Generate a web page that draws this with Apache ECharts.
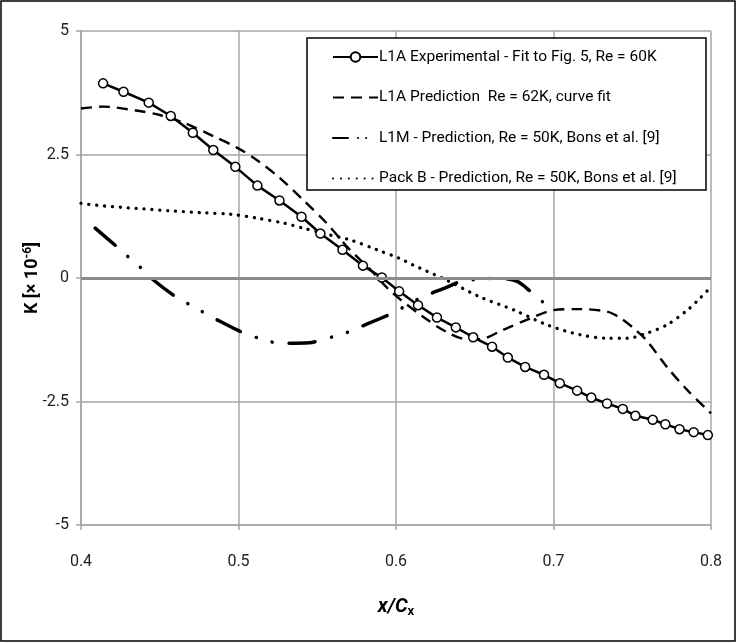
<!DOCTYPE html>
<html>
<head>
<meta charset="utf-8">
<script src="https://cdn.jsdelivr.net/npm/echarts@6/dist/echarts.min.js"></script>
<style>
  html, body { margin: 0; padding: 0; background: #fff; }
  #chart { width: 736px; height: 642px; }
</style>
</head>
<body>
<div id="chart"></div>
<script>
// L1A experimental (fit to Fig. 5)
var xExp = [0.414, 0.427, 0.443, 0.457, 0.471, 0.484, 0.498, 0.512, 0.526, 0.540, 0.552, 0.566, 0.579, 0.591, 0.602, 0.614, 0.626, 0.638, 0.649, 0.661, 0.671, 0.682, 0.694, 0.704, 0.715, 0.724, 0.734, 0.744, 0.752, 0.763, 0.771, 0.780, 0.789, 0.798]
var yExp = [3.94, 3.77, 3.55, 3.28, 2.94, 2.59, 2.25, 1.87, 1.57, 1.24, 0.90, 0.57, 0.25, 0.01, -0.27, -0.55, -0.80, -1.00, -1.20, -1.39, -1.61, -1.80, -1.96, -2.13, -2.28, -2.42, -2.54, -2.65, -2.79, -2.87, -2.96, -3.06, -3.12, -3.18]

// L1A prediction, curve fit
var xPred = [0.400, 0.414, 0.435, 0.450, 0.467, 0.484, 0.499, 0.512, 0.526, 0.541, 0.556, 0.569, 0.584, 0.597, 0.617, 0.632, 0.645, 0.653, 0.668, 0.685, 0.700, 0.717, 0.734, 0.742, 0.751, 0.759, 0.772, 0.785, 0.800]
var yPred = [3.43, 3.47, 3.39, 3.30, 3.12, 2.87, 2.64, 2.38, 2.03, 1.58, 1.11, 0.63, 0.16, -0.28, -0.78, -1.09, -1.24, -1.24, -1.05, -0.82, -0.65, -0.63, -0.68, -0.80, -1.02, -1.26, -1.80, -2.27, -2.74]

// L1M prediction (Bons et al.)
var xL1M = [0.409, 0.424, 0.431, 0.439, 0.446, 0.461, 0.469, 0.478, 0.486, 0.501, 0.511, 0.520, 0.530, 0.545, 0.556, 0.565, 0.575, 0.590, 0.599, 0.615, 0.632, 0.641, 0.651, 0.662, 0.668, 0.677, 0.685, 0.693]
var yL1M = [1.01, 0.60, 0.40, 0.18, -0.04, -0.40, -0.54, -0.70, -0.84, -1.08, -1.20, -1.29, -1.32, -1.31, -1.22, -1.15, -1.02, -0.82, -0.69, -0.41, -0.19, -0.07, -0.03, -0.01, -0.01, -0.07, -0.26, -0.48]

// Pack B prediction (Bons et al.)
var xPackB = [0.400, 0.414, 0.435, 0.457, 0.478, 0.495, 0.512, 0.529, 0.541, 0.554, 0.571, 0.588, 0.602, 0.611, 0.632, 0.653, 0.675, 0.696, 0.717, 0.734, 0.747, 0.759, 0.772, 0.785, 0.793, 0.800]
var yPackB = [1.51, 1.46, 1.41, 1.36, 1.32, 1.29, 1.21, 1.11, 1.01, 0.90, 0.77, 0.57, 0.40, 0.26, -0.04, -0.38, -0.65, -0.95, -1.15, -1.22, -1.22, -1.12, -0.95, -0.65, -0.41, -0.18]

var seriesNames = [
  'L1A Experimental - Fit to Fig. 5, Re = 60K',
  'L1A Prediction  Re = 62K, curve fit',
  'L1M - Prediction, Re = 50K, Bons et al. [9]',
  'Pack B - Prediction, Re = 50K, Bons et al. [9]'
]

var zip = function(xs, ys) {
  var res = []
  for (var i = 0; i < xs.length; i++) {
    res.push([xs[i], ys[i]])
  }
  return res
}

var FONT = "'Roboto', sans-serif"
var GRID_COLOR = '#a6a6a6'

// legend entries: only the experimental one carries a marker
var legendData = seriesNames.map(function(name, i) {
  if (i === 0) return { name: name }
  var item = { name: name, itemStyle: { opacity: 0 } }
  if (i === 2) item.lineStyle = { type: [15, 10, 0.1, 8, 0.1, 20] } // short icon: dash + two dots
  return item
})

var option = {
  backgroundColor: '#fff',
  animation: false,
  grid: { left: 81, right: 25, top: 31, bottom: 117 },
  graphic: [
    {
      type: 'rect',
      z: 0,
      shape: { x: 1, y: 1, width: 734, height: 640 },
      style: { fill: null, stroke: '#000', lineWidth: 1.5 }
    },
    {
      type: 'rect',
      z: 20,
      shape: { x: 307, y: 38, width: 399, height: 152 },
      style: { fill: '#fff', stroke: '#000', lineWidth: 1.5 }
    }
  ],
  legend: {
    data: legendData,
    orient: 'vertical',
    left: 327,
    top: 44,
    z: 30,
    itemWidth: 45,
    itemHeight: 12,
    itemGap: 24.5,
    textStyle: { fontFamily: FONT, fontSize: 15.5, color: '#000', padding: [0, 0, 0, -4] }
  },
  xAxis: {
    type: 'value',
    min: 0.4,
    max: 0.8,
    interval: 0.1,
    name: '{i|x/C}{s|x}',
    nameLocation: 'middle',
    nameGap: 70,
    nameTextStyle: {
      rich: {
        i: { fontFamily: FONT, fontSize: 20, fontWeight: 'bold', fontStyle: 'italic', color: '#000' },
        s: { fontFamily: FONT, fontSize: 13, fontWeight: 'bold', color: '#000', padding: [10, 0, 0, 0] }
      }
    },
    axisLine: { onZero: false, lineStyle: { color: GRID_COLOR, width: 1.5 } },
    axisTick: { show: true, inside: false, length: 5, lineStyle: { color: GRID_COLOR, width: 1.5 } },
    axisLabel: {
      margin: 29,
      fontFamily: FONT,
      fontSize: 16,
      color: '#222',
      formatter: function(v) { return v.toFixed(1) }
    },
    splitLine: { show: true, lineStyle: { color: GRID_COLOR, width: 1.5 } }
  },
  yAxis: {
    type: 'value',
    min: -5,
    max: 5,
    interval: 2.5,
    name: '{b|K [× 10}{sup|-6}{b|]}',
    nameLocation: 'middle',
    nameGap: 38,
    nameRotate: 90,
    nameMoveOverlap: false,
    nameTextStyle: {
      rich: {
        b: { fontFamily: FONT, fontSize: 18, fontWeight: 'bold', color: '#000' },
        sup: { fontFamily: FONT, fontSize: 12, fontWeight: 'bold', color: '#000', padding: [0, 0, 9, 0] }
      }
    },
    axisLine: { show: true, lineStyle: { color: GRID_COLOR, width: 1.5 } },
    axisTick: { show: true, inside: false, length: 5, lineStyle: { color: GRID_COLOR, width: 1.5 } },
    axisLabel: { margin: 12, fontFamily: FONT, fontSize: 16, color: '#222' },
    splitLine: { show: true, lineStyle: { color: GRID_COLOR, width: 1.5 } }
  },
  series: [
    {
      // zero reference line
      name: 'zero',
      type: 'line',
      data: [],
      z: 1,
      silent: true,
      markLine: {
        silent: true,
        symbol: 'none',
        label: { show: false },
        lineStyle: { color: '#8c8c8c', width: 3, type: 'solid' },
        data: [{ yAxis: 0 }]
      }
    },
    {
      name: seriesNames[3],
      type: 'line',
      z: 3,
      smooth: 0.3,
      symbol: 'none',
      lineStyle: { color: '#000', width: 3.3, type: [0.1, 7.8], cap: 'round' },
      itemStyle: { color: '#000' },
      data: zip(xPackB, yPackB)
    },
    {
      name: seriesNames[2],
      type: 'line',
      z: 3,
      smooth: 0.3,
      symbol: 'none',
      lineStyle: { color: '#000', width: 3.5, type: [26, 17, 0.1, 16.5, 0.1, 17], cap: 'round' },
      itemStyle: { color: '#000' },
      data: zip(xL1M, yL1M)
    },
    {
      name: seriesNames[1],
      type: 'line',
      z: 3,
      smooth: 0.3,
      symbol: 'none',
      lineStyle: { color: '#000', width: 2.4, type: [11, 7] },
      itemStyle: { color: '#000' },
      data: zip(xPred, yPred)
    },
    {
      name: seriesNames[0],
      type: 'line',
      z: 4,
      symbol: 'circle',
      symbolSize: 9,
      showSymbol: true,
      lineStyle: { color: '#000', width: 2.5 },
      itemStyle: { color: '#fff', borderColor: '#000', borderWidth: 1.5 },
      data: zip(xExp, yExp)
    }
  ]
}

var myChart = echarts.init(document.getElementById('chart'))
myChart.setOption(option)
</script>
</body>
</html>
